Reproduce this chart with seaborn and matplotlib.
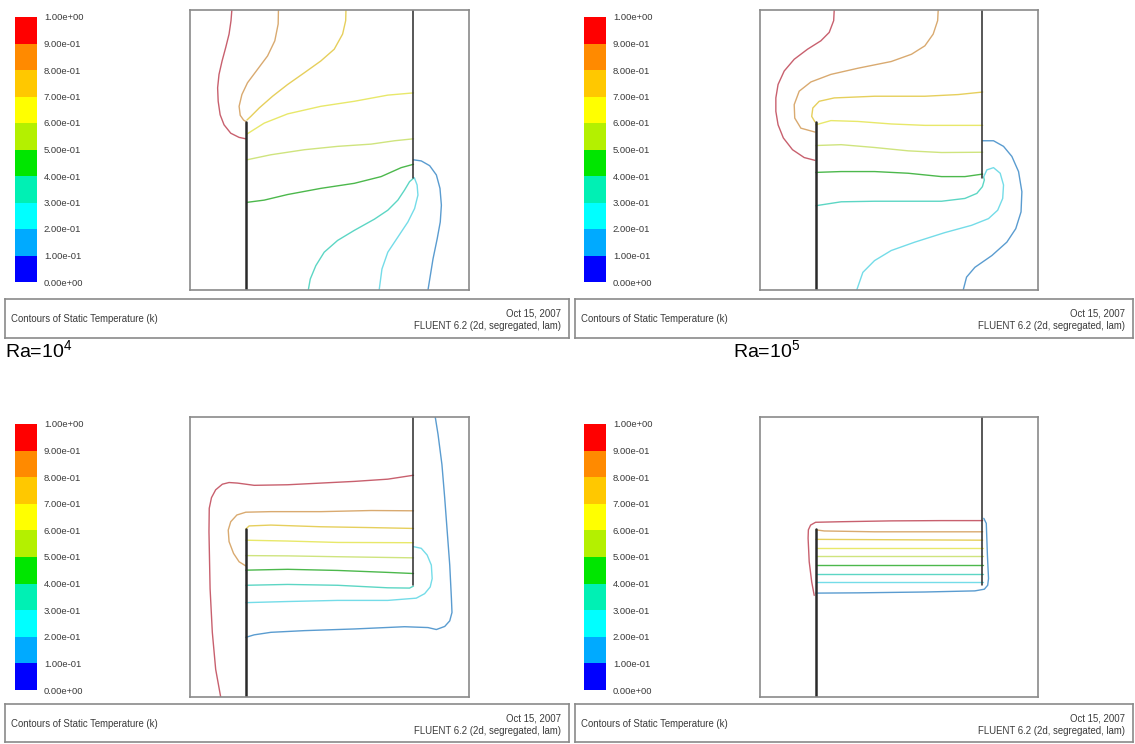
import matplotlib
matplotlib.use('Agg')
import matplotlib.pyplot as plt
import seaborn as sns
import numpy as np
from matplotlib.colors import ListedColormap

# ---------- Style ----------
sns.set_style('white')
plt.rcParams['font.family'] = ['Liberation Sans', 'DejaVu Sans']
plt.rcParams['mathtext.fontset'] = 'custom'
plt.rcParams['mathtext.rm'] = 'Liberation Sans'

# ---------- Colour scale (top band first) ----------
scale_labels = ['1.00e+00', '9.00e-01', '8.00e-01', '7.00e-01', '6.00e-01', '5.00e-01',
                '4.00e-01', '3.00e-01', '2.00e-01', '1.00e-01', '0.00e+00']
band_values = [0.95, 0.85, 0.75, 0.65, 0.55, 0.45, 0.35, 0.25, 0.15, 0.05]
band_colors = ['#ff0000', '#ff8a00', '#ffc800', '#ffff00', '#b4f000',
               '#00e600', '#00f0b4', '#00ffff', '#00aaff', '#0000ff']

# contour levels drawn in each panel, with their line colours
levels = [0.9, 0.8, 0.7, 0.6, 0.5, 0.4, 0.3, 0.2, 0.1]
line_colors = ['#c8606e', '#d9aa70', '#e6cf5c', '#e8e86a', '#cfe47e',
               '#4cb84c', '#5cd6c4', '#74dce8', '#5a9cd0']

# partition walls (x, y) in the unit cavity
left_wall_x, left_wall_y = [0.2, 0.2], [0.0, 0.6]
right_wall_x, right_wall_y = [0.8, 0.8], [0.4, 1.0]

# ---------- Panel 1 : Ra = 1e4 (top left) ----------
p1_x = [
    [0.150, 0.147, 0.140, 0.128, 0.115, 0.104, 0.099, 0.101, 0.108, 0.122, 0.146, 0.176, 0.200],
    [0.317, 0.316, 0.304, 0.278, 0.242, 0.206, 0.186, 0.176, 0.180, 0.192, 0.200],
    [0.559, 0.558, 0.547, 0.517, 0.469, 0.410, 0.350, 0.296, 0.248, 0.218, 0.204],
    [0.204, 0.266, 0.350, 0.469, 0.589, 0.709, 0.801],
    [0.204, 0.290, 0.410, 0.529, 0.649, 0.733, 0.801],
    [0.204, 0.266, 0.350, 0.469, 0.589, 0.685, 0.757, 0.801],
    [0.801, 0.787, 0.769, 0.745, 0.709, 0.661, 0.589, 0.529, 0.481, 0.451, 0.431, 0.424],
    [0.804, 0.814, 0.817, 0.805, 0.781, 0.745, 0.709, 0.688, 0.678],
    [0.801, 0.829, 0.859, 0.883, 0.896, 0.901, 0.897, 0.886, 0.871, 0.853],
]
p1_y = [
    [1.000, 0.962, 0.914, 0.866, 0.818, 0.770, 0.722, 0.674, 0.626, 0.590, 0.560, 0.545, 0.540],
    [1.000, 0.950, 0.890, 0.836, 0.788, 0.740, 0.698, 0.656, 0.624, 0.607, 0.602],
    [1.000, 0.962, 0.914, 0.860, 0.818, 0.776, 0.734, 0.692, 0.650, 0.620, 0.607],
    [0.557, 0.596, 0.629, 0.656, 0.674, 0.696, 0.704],
    [0.465, 0.483, 0.501, 0.513, 0.521, 0.533, 0.540],
    [0.313, 0.321, 0.341, 0.363, 0.381, 0.405, 0.437, 0.449],
    [0.399, 0.387, 0.357, 0.321, 0.285, 0.253, 0.213, 0.177, 0.135, 0.087, 0.039, 0.000],
    [0.401, 0.375, 0.339, 0.291, 0.243, 0.189, 0.135, 0.075, 0.000],
    [0.465, 0.461, 0.444, 0.411, 0.363, 0.303, 0.243, 0.183, 0.111, 0.000],
]

# ---------- Panel 2 : Ra = 1e5 (top right) ----------
p2_x = [
    [0.267, 0.265, 0.249, 0.219, 0.171, 0.123, 0.087, 0.065, 0.057, 0.057, 0.065, 0.084, 0.117, 0.159, 0.198],
    [0.641, 0.639, 0.623, 0.593, 0.545, 0.472, 0.352, 0.255, 0.183, 0.141, 0.123, 0.125, 0.147, 0.198],
    [0.198, 0.186, 0.190, 0.213, 0.267, 0.412, 0.593, 0.713, 0.801],
    [0.201, 0.255, 0.352, 0.472, 0.593, 0.713, 0.801],
    [0.201, 0.292, 0.412, 0.533, 0.653, 0.801],
    [0.201, 0.292, 0.412, 0.533, 0.653, 0.737, 0.801],
    [0.201, 0.292, 0.412, 0.533, 0.653, 0.737, 0.780, 0.800, 0.807, 0.804],
    [0.805, 0.816, 0.840, 0.864, 0.876, 0.873, 0.855, 0.822, 0.761, 0.665, 0.557, 0.472, 0.412, 0.370, 0.348],
    [0.801, 0.840, 0.876, 0.906, 0.930, 0.942, 0.939, 0.920, 0.888, 0.834, 0.773, 0.743, 0.731],
]
p2_y = [
    [1.000, 0.962, 0.920, 0.890, 0.860, 0.824, 0.782, 0.734, 0.686, 0.638, 0.590, 0.543, 0.501, 0.473, 0.463],
    [1.000, 0.962, 0.914, 0.872, 0.842, 0.816, 0.792, 0.770, 0.743, 0.710, 0.662, 0.614, 0.578, 0.564],
    [0.600, 0.620, 0.650, 0.674, 0.686, 0.692, 0.692, 0.698, 0.707],
    [0.590, 0.605, 0.602, 0.593, 0.588, 0.588, 0.588],
    [0.516, 0.519, 0.509, 0.497, 0.491, 0.492],
    [0.420, 0.423, 0.423, 0.417, 0.405, 0.405, 0.414],
    [0.301, 0.315, 0.317, 0.317, 0.317, 0.327, 0.345, 0.369, 0.393, 0.405],
    [0.405, 0.429, 0.437, 0.417, 0.375, 0.327, 0.285, 0.255, 0.231, 0.205, 0.171, 0.141, 0.105, 0.063, 0.000],
    [0.533, 0.533, 0.513, 0.477, 0.423, 0.351, 0.279, 0.219, 0.171, 0.123, 0.081, 0.046, 0.000],
]

# ---------- Panel 3 (bottom left) ----------
p3_x = [
    [0.110, 0.092, 0.080, 0.072, 0.068, 0.069, 0.077, 0.092, 0.116, 0.140, 0.170, 0.230, 0.350,
     0.469, 0.589, 0.709, 0.801],
    [0.200, 0.176, 0.156, 0.140, 0.137, 0.146, 0.168, 0.200, 0.290, 0.469, 0.649, 0.801],
    [0.200, 0.212, 0.290, 0.469, 0.649, 0.801],
    [0.200, 0.350, 0.529, 0.801],
    [0.200, 0.350, 0.529, 0.801],
    [0.200, 0.350, 0.529, 0.709, 0.801],
    [0.200, 0.350, 0.529, 0.709, 0.787, 0.801],
    [0.801, 0.829, 0.850, 0.865, 0.868, 0.861, 0.841, 0.811, 0.709, 0.529, 0.350, 0.200],
    [0.879, 0.889, 0.903, 0.913, 0.922, 0.931, 0.937, 0.939, 0.931, 0.913, 0.883, 0.853, 0.769,
     0.589, 0.410, 0.290, 0.230, 0.200],
]
p3_y = [
    [0.000, 0.099, 0.231, 0.387, 0.590, 0.674, 0.712, 0.740, 0.760, 0.766, 0.764, 0.756, 0.758,
     0.764, 0.770, 0.778, 0.792],
    [0.468, 0.483, 0.513, 0.555, 0.596, 0.626, 0.650, 0.660, 0.662, 0.662, 0.666, 0.665],
    [0.600, 0.611, 0.614, 0.608, 0.605, 0.602],
    [0.560, 0.557, 0.552, 0.551],
    [0.505, 0.504, 0.501, 0.497],
    [0.453, 0.456, 0.452, 0.445, 0.441],
    [0.399, 0.402, 0.399, 0.390, 0.389, 0.396],
    [0.537, 0.531, 0.507, 0.471, 0.423, 0.393, 0.369, 0.353, 0.345, 0.345, 0.341, 0.337],
    [1.000, 0.938, 0.830, 0.710, 0.590, 0.471, 0.351, 0.302, 0.272, 0.252, 0.241, 0.248, 0.251,
     0.243, 0.237, 0.231, 0.222, 0.213],
]

# ---------- Panel 4 (bottom right) ----------
p4_x = [
    [0.195, 0.186, 0.177, 0.173, 0.174, 0.182, 0.200, 0.292, 0.472, 0.653, 0.801],
    [0.201, 0.231, 0.412, 0.593, 0.801],
    [0.201, 0.801],
    [0.201, 0.801],
    [0.201, 0.801],
    [0.201, 0.801],
    [0.201, 0.801],
    [0.201, 0.801],
    [0.805, 0.814, 0.818, 0.822, 0.819, 0.807, 0.773, 0.593, 0.352, 0.201],
]
p4_y = [
    [0.363, 0.411, 0.483, 0.567, 0.597, 0.614, 0.624, 0.626, 0.629, 0.630, 0.630],
    [0.597, 0.593, 0.590, 0.590, 0.590],
    [0.563, 0.560],
    [0.532, 0.532],
    [0.502, 0.502],
    [0.472, 0.472],
    [0.441, 0.441],
    [0.411, 0.411],
    [0.638, 0.620, 0.507, 0.423, 0.399, 0.385, 0.379, 0.375, 0.372, 0.371],
]

ra_labels = [r'Ra=10$^{4}$', r'Ra=10$^{5}$']

# ---------- Layout (pixel boxes: left, top, right, bottom) ----------
W, H = 1135, 744
panels = [
    dict(xs=p1_x, ys=p1_y, dom=(190, 10, 469, 290), bar=(15, 17, 37, 282), cap=(5, 299, 569, 338)),
    dict(xs=p2_x, ys=p2_y, dom=(760, 10, 1038, 290), bar=(584, 17, 606, 282), cap=(575, 299, 1133, 338)),
    dict(xs=p3_x, ys=p3_y, dom=(190, 417, 469, 697), bar=(15, 424, 37, 690), cap=(5, 704, 569, 742)),
    dict(xs=p4_x, ys=p4_y, dom=(760, 417, 1038, 697), bar=(584, 424, 606, 690), cap=(575, 704, 1133, 742)),
]


def px_axes(fig, box):
    l, t, r, b = box
    return fig.add_axes([l / W, 1 - b / H, (r - l) / W, (b - t) / H])


fig = plt.figure(figsize=(W / 100, H / 100), dpi=100)
frame_gray = '#8a8a8a'
text_gray = '#3a3a3a'
# colormap runs low -> high, so reverse the top-first band list
cmap = ListedColormap(band_colors[::-1])

for p in panels:
    # colour scale
    cax = px_axes(fig, p['bar'])
    sns.heatmap(np.array(band_values).reshape(-1, 1), ax=cax, cmap=cmap,
                vmin=0, vmax=1, cbar=False, xticklabels=False)
    cax.yaxis.tick_right()
    cax.set_yticks(range(len(scale_labels)))
    cax.set_yticklabels(scale_labels, rotation=0, fontsize=6.8, color=text_gray)
    cax.tick_params(axis='y', length=0, pad=5)
    cax.set_xticks([])

    # cavity with contour lines
    ax = px_axes(fig, p['dom'])
    for xs, ys, c in zip(p['xs'], p['ys'], line_colors):
        sns.lineplot(x=xs, y=ys, sort=False, estimator=None, color=c,
                     linewidth=1.0, ax=ax)
    ax.plot(left_wall_x, left_wall_y, color='#2a2a2a', linewidth=1.8)
    ax.plot(right_wall_x, right_wall_y, color='#2a2a2a', linewidth=1.1)
    ax.set_xlim(0, 1)
    ax.set_ylim(0, 1)
    ax.set_xticks([])
    ax.set_yticks([])
    for s in ax.spines.values():
        s.set_color(frame_gray)
        s.set_linewidth(1.2)

    # caption box
    tax = px_axes(fig, p['cap'])
    tax.set_xticks([])
    tax.set_yticks([])
    for s in tax.spines.values():
        s.set_color(frame_gray)
        s.set_linewidth(1.2)
    tax.text(0.011, 0.48, 'Contours of Static Temperature (k)', fontsize=6.9,
             color=text_gray, va='center', ha='left', transform=tax.transAxes)
    tax.text(0.986, 0.62, 'Oct 15, 2007', fontsize=6.9, color=text_gray,
             va='center', ha='right', transform=tax.transAxes)
    tax.text(0.986, 0.30, 'FLUENT 6.2 (2d, segregated, lam)', fontsize=6.9,
             color=text_gray, va='center', ha='right', transform=tax.transAxes)

fig.text(5 / W, 1 - 351 / H, ra_labels[0], fontsize=14, color='black', va='center', ha='left')
fig.text(733 / W, 1 - 351 / H, ra_labels[1], fontsize=14, color='black', va='center', ha='left')

fig.savefig('out.png', dpi=100)
